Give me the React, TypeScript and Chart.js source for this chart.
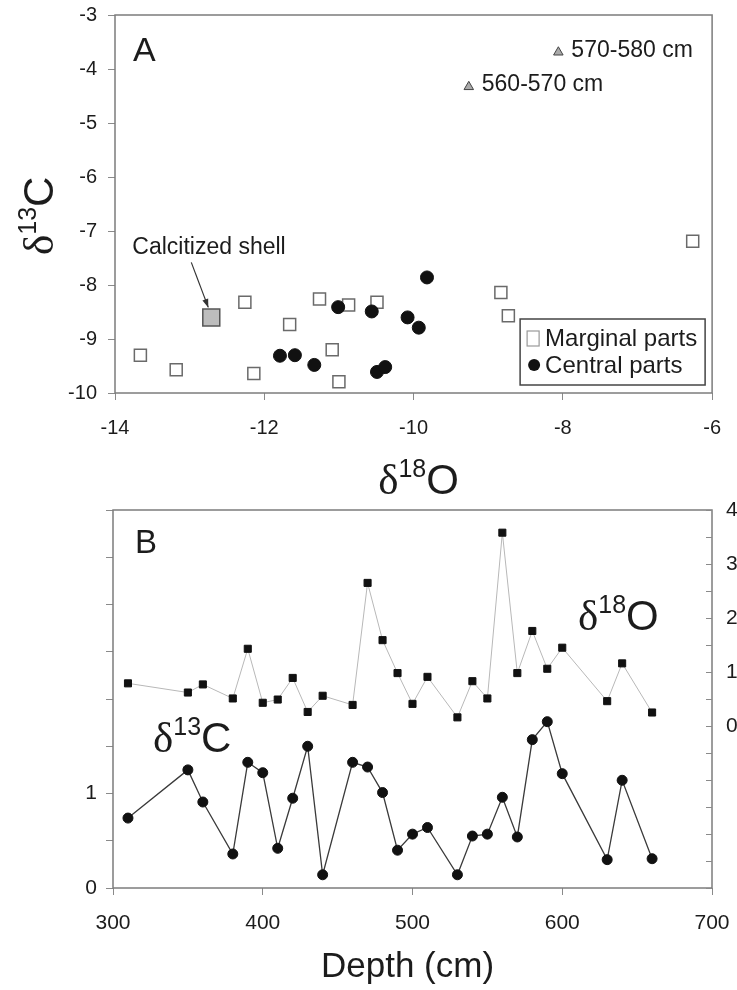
import React, { useEffect, useRef } from 'react';
import { Chart, registerables } from 'chart.js';
Chart.register(...registerables);

const FONT = '"Liberation Sans", Arial, sans-serif';
const SERIF = '"Liberation Serif", "Times New Roman", serif';
const INK = '#1c1c1c';
const AXIS = '#7c7c7c';

// ---------- Panel A data ----------
const marginalO = [-13.66, -13.18, -12.26, -11.66, -12.14, -11.26, -11.09, -10.87, -11.0, -10.49, -8.83, -8.73, -6.26];
const marginalC = [-9.3, -9.57, -8.32, -8.73, -9.64, -8.26, -9.2, -8.37, -9.79, -8.32, -8.14, -8.57, -7.19];
const centralO = [-11.79, -11.59, -11.33, -11.01, -10.56, -10.49, -10.38, -10.08, -9.93, -9.82];
const centralC = [-9.31, -9.3, -9.48, -8.41, -8.49, -9.61, -9.52, -8.6, -8.79, -7.86];
const shellO = [-12.71];
const shellC = [-8.6];
const sampleLabels = ['560-570 cm', '570-580 cm'];
const sampleO = [-9.26, -8.06];
const sampleC = [-4.33, -3.69];
const legendLabels = ['Marginal parts', 'Central parts'];
const shellLabel = 'Calcitized shell';

// ---------- Panel B data ----------
const depths = [310, 350, 360, 380, 390, 400, 410, 420, 430, 440, 460, 470, 480, 490, 500, 510, 530, 540, 550, 560, 570, 580, 590, 600, 630, 640, 660];
const d18O = [0.79, 0.62, 0.77, 0.51, 1.43, 0.43, 0.49, 0.89, 0.26, 0.56, 0.39, 2.65, 1.59, 0.98, 0.41, 0.91, 0.16, 0.83, 0.51, 3.58, 0.98, 1.76, 1.06, 1.45, 0.46, 1.16, 0.25];
const d13C = [0.74, 1.25, 0.91, 0.36, 1.33, 1.22, 0.42, 0.95, 1.5, 0.14, 1.33, 1.28, 1.01, 0.4, 0.57, 0.64, 0.14, 0.55, 0.57, 0.96, 0.54, 1.57, 1.76, 1.21, 0.3, 1.14, 0.31];
const leftTickLabels = [0, 1];
const rightTickLabels = [0, 1, 2, 3, 4];

type Part = { t: string; s: number; f: string; r?: number };
function drawRich(ctx: CanvasRenderingContext2D, x: number, y: number, parts: Part[], align = 'left') {
  let total = 0;
  for (const p of parts) {
    ctx.font = `${p.s}px ${p.f}`;
    total += ctx.measureText(p.t).width;
  }
  let cx = align === 'center' ? x - total / 2 : x;
  ctx.textAlign = 'left';
  ctx.textBaseline = 'alphabetic';
  for (const p of parts) {
    ctx.font = `${p.s}px ${p.f}`;
    ctx.fillText(p.t, cx, y - (p.r || 0));
    cx += ctx.measureText(p.t).width;
  }
}
const iso = (a: string, b: string): Part[] => [
  { t: 'δ', s: 43, f: SERIF },
  { t: a, s: 25, f: FONT, r: 17 },
  { t: b, s: 42, f: FONT },
];

const pluginA = {
  id: 'panelA',
  beforeDatasetsDraw(chart: any) {
    const { ctx, chartArea: a } = chart;
    ctx.save();
    ctx.strokeStyle = AXIS;
    ctx.lineWidth = 1.5;
    ctx.strokeRect(a.left, a.top, a.right - a.left, a.bottom - a.top);
    ctx.restore();
  },
  afterDraw(chart: any) {
    const { ctx, chartArea: a, scales } = chart;
    const sx = scales.x, sy = scales.y;
    ctx.save();
    ctx.fillStyle = INK;
    ctx.font = `34px ${FONT}`;
    ctx.textAlign = 'left';
    ctx.textBaseline = 'alphabetic';
    ctx.fillText('A', a.left + 18, a.top + 46);
    ctx.font = `23px ${FONT}`;
    ctx.textBaseline = 'middle';
    sampleLabels.forEach((lab, i) => {
      const px = sx.getPixelForValue(sampleO[i]);
      const py = sy.getPixelForValue(sampleC[i]);
      ctx.fillText(lab, px + 13, py - 2);
    });
    const spx = sx.getPixelForValue(shellO[0]);
    const spy = sy.getPixelForValue(shellC[0]);
    ctx.fillText(shellLabel, spx - 79, spy - 70);
    const x0 = spx - 20, y0 = spy - 55, x1 = spx - 3, y1 = spy - 10;
    ctx.strokeStyle = '#333';
    ctx.lineWidth = 1.2;
    ctx.beginPath();
    ctx.moveTo(x0, y0);
    ctx.lineTo(x1, y1);
    ctx.stroke();
    const ang = Math.atan2(y1 - y0, x1 - x0);
    ctx.fillStyle = '#333';
    ctx.beginPath();
    ctx.moveTo(x1, y1);
    ctx.lineTo(x1 - 9 * Math.cos(ang - 0.35), y1 - 9 * Math.sin(ang - 0.35));
    ctx.lineTo(x1 - 9 * Math.cos(ang + 0.35), y1 - 9 * Math.sin(ang + 0.35));
    ctx.closePath();
    ctx.fill();
    const lw = 185, lh = 66;
    const lx = a.right - 7 - lw, ly = a.bottom - 8 - lh;
    ctx.fillStyle = '#fff';
    ctx.fillRect(lx, ly, lw, lh);
    ctx.strokeStyle = '#444';
    ctx.lineWidth = 1.5;
    ctx.strokeRect(lx, ly, lw, lh);
    ctx.strokeStyle = '#999';
    ctx.lineWidth = 1.2;
    ctx.fillStyle = '#fff';
    ctx.fillRect(lx + 7, ly + 12, 12, 15);
    ctx.strokeRect(lx + 7, ly + 12, 12, 15);
    ctx.fillStyle = '#111';
    ctx.beginPath();
    ctx.arc(lx + 14, ly + 46, 6, 0, Math.PI * 2);
    ctx.fill();
    ctx.fillStyle = INK;
    ctx.font = `24px ${FONT}`;
    ctx.textBaseline = 'middle';
    ctx.fillText(legendLabels[0], lx + 25, ly + 20);
    ctx.fillText(legendLabels[1], lx + 25, ly + 47);
    ctx.fillStyle = INK;
    drawRich(ctx, (a.left + a.right) / 2 + 5, a.bottom + 101, iso('18', 'O'), 'center');
    ctx.save();
    ctx.translate(53, (a.top + a.bottom) / 2 + 51);
    ctx.rotate(-Math.PI / 2);
    drawRich(ctx, 0, 0, iso('13', 'C'));
    ctx.restore();
    ctx.restore();
  },
};

const pluginB = {
  id: 'panelB',
  beforeDatasetsDraw(chart: any) {
    const { ctx, chartArea: a, scales } = chart;
    ctx.save();
    ctx.strokeStyle = AXIS;
    ctx.lineWidth = 1.5;
    ctx.strokeRect(a.left, a.top, a.right - a.left, a.bottom - a.top);
    ctx.strokeStyle = '#8a8a8a';
    ctx.lineWidth = 1;
    scales.yR.ticks.forEach((t: any) => {
      const y = Math.round(scales.yR.getPixelForValue(t.value)) + 0.5;
      ctx.beginPath();
      ctx.moveTo(a.right - 6, y);
      ctx.lineTo(a.right, y);
      ctx.stroke();
    });
    ctx.restore();
  },
  afterDraw(chart: any) {
    const { ctx, chartArea: a } = chart;
    ctx.save();
    ctx.fillStyle = INK;
    ctx.font = `33px ${FONT}`;
    ctx.textAlign = 'left';
    ctx.textBaseline = 'alphabetic';
    ctx.fillText('B', a.left + 22, a.top + 43);
    drawRich(ctx, a.left + 40, a.top + 242, iso('13', 'C'));
    drawRich(ctx, a.left + 465, a.top + 120, iso('18', 'O'));
    ctx.font = `35px ${FONT}`;
    ctx.textAlign = 'center';
    ctx.fillText('Depth (cm)', (a.left + a.right) / 2 - 5, a.bottom + 89);
    ctx.restore();
  },
};

const gridCfg = { display: true, drawOnChartArea: false, drawTicks: true, tickLength: 7, color: '#8a8a8a', lineWidth: 1 };

function configA(): any {
  return {
    type: 'scatter',
    data: {
      datasets: [
        {
          label: sampleLabels.join(','),
          data: sampleO.map((x, i) => ({ x, y: sampleC[i] })),
          pointStyle: 'triangle', pointRadius: 5.5, backgroundColor: '#aaa', borderColor: '#444', borderWidth: 1,
        },
        {
          label: shellLabel,
          data: shellO.map((x, i) => ({ x, y: shellC[i] })),
          pointStyle: 'rect', pointRadius: 12, backgroundColor: '#bdbdbd', borderColor: '#555', borderWidth: 1.5,
        },
        {
          label: legendLabels[1],
          data: centralO.map((x, i) => ({ x, y: centralC[i] })),
          pointStyle: 'circle', pointRadius: 6.5, backgroundColor: '#111', borderColor: '#111', borderWidth: 1,
        },
        {
          label: legendLabels[0],
          data: marginalO.map((x, i) => ({ x, y: marginalC[i] })),
          pointStyle: 'rect', pointRadius: 8.5, backgroundColor: '#fff', borderColor: '#6a6a6a', borderWidth: 1.5,
        },
      ],
    },
    options: {
      responsive: false,
      animation: false,
      events: [],
      layout: { padding: { top: 30, right: 24, left: 0, bottom: 0 } },
      plugins: { legend: { display: false }, tooltip: { enabled: false } },
      scales: {
        x: {
          type: 'linear', min: -14, max: -6,
          ticks: { stepSize: 2, padding: 16, color: INK, font: { family: FONT, size: 20 } },
          grid: gridCfg, border: { display: false },
          afterFit: (s: any) => { s.height = 107; },
        },
        y: {
          type: 'linear', min: -10, max: -3,
          ticks: { stepSize: 1, padding: 11, color: INK, font: { family: FONT, size: 20 } },
          grid: gridCfg, border: { display: false },
          afterFit: (s: any) => { s.width = 115; },
        },
      },
    },
    plugins: [pluginA],
  };
}

function configB(): any {
  return {
    type: 'line',
    data: {
      datasets: [
        {
          label: 'δ18O',
          yAxisID: 'yR',
          data: depths.map((x, i) => ({ x, y: d18O[i] })),
          borderColor: '#b8b8b8', borderWidth: 1, pointStyle: 'rect', pointRadius: 5,
          pointBackgroundColor: '#111', pointBorderColor: '#111', pointBorderWidth: 1, tension: 0,
        },
        {
          label: 'δ13C',
          yAxisID: 'yL',
          data: depths.map((x, i) => ({ x, y: d13C[i] })),
          borderColor: '#3a3a3a', borderWidth: 1.3, pointStyle: 'circle', pointRadius: 5,
          pointBackgroundColor: '#111', pointBorderColor: '#111', pointBorderWidth: 1, tension: 0,
        },
      ],
    },
    options: {
      responsive: false,
      animation: false,
      events: [],
      layout: { padding: { top: 30, right: 0, left: 0, bottom: 0 } },
      plugins: { legend: { display: false }, tooltip: { enabled: false } },
      scales: {
        x: {
          type: 'linear', min: 300, max: 700,
          ticks: { stepSize: 100, padding: 16, color: INK, font: { family: FONT, size: 21 } },
          grid: gridCfg, border: { display: false },
          afterFit: (s: any) => { s.height = 102; },
        },
        yL: {
          type: 'linear', position: 'left', min: 0, max: 4,
          ticks: {
            stepSize: 0.5, autoSkip: false, padding: 9, color: INK, font: { family: FONT, size: 21 },
            callback: (v: number) => (leftTickLabels.includes(v) ? String(v) : ''),
          },
          grid: gridCfg, border: { display: false },
          afterFit: (s: any) => { s.width = 113; },
        },
        yR: {
          type: 'linear', position: 'right', min: -3, max: 4,
          ticks: {
            stepSize: 0.5, autoSkip: false, padding: 14, color: INK, font: { family: FONT, size: 21 },
            callback: (v: number) => (rightTickLabels.includes(v) ? String(v) : ''),
          },
          grid: { display: true, drawOnChartArea: false, drawTicks: false, color: '#8a8a8a' },
          border: { display: false },
          afterFit: (s: any) => { s.width = 48; },
        },
      },
    },
    plugins: [pluginB],
  };
}

export default function App() {
  const refA = useRef<HTMLCanvasElement>(null);
  const refB = useRef<HTMLCanvasElement>(null);
  useEffect(() => {
    const ca = new Chart(refA.current as HTMLCanvasElement, configA());
    const cb = new Chart(refB.current as HTMLCanvasElement, configB());
    return () => {
      ca.destroy();
      cb.destroy();
    };
  }, []);
  return (
    <div style={{ position: 'fixed', left: 0, top: 0, width: 737, height: 990, overflow: 'hidden', background: '#fff' }}>
      <canvas ref={refA} width={737} height={515} style={{ position: 'absolute', left: 0, top: -15, width: 737, height: 515 }} />
      <canvas ref={refB} width={760} height={510} style={{ position: 'absolute', left: 0, top: 480, width: 760, height: 510 }} />
    </div>
  );
}
